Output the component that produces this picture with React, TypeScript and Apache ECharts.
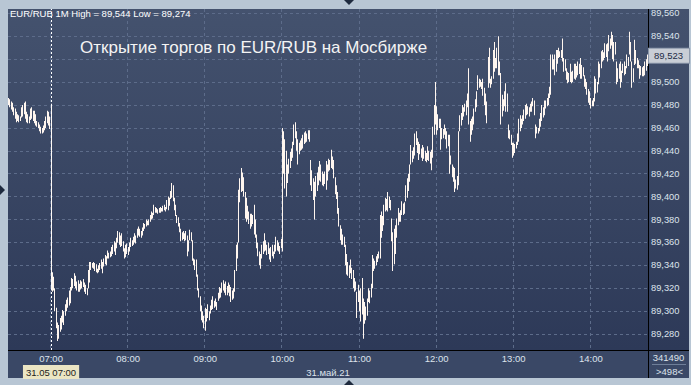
import React, { useEffect, useRef } from 'react';
import * as echarts from 'echarts';

const FONT = '"Liberation Sans", Arial, sans-serif';

// One-minute bars: 33 bars of the previous session, then 07:00 .. 14:44
const PREV_SESSION_START = '23:17';
const SESSION_START = '07:00';
const PREV_BARS = 33;

const HIGH = [
  89.486, 89.485, 89.483, 89.482, 89.478, 89.477, 89.474, 89.472, 89.471, 89.470,
  89.478, 89.480, 89.482, 89.483, 89.474, 89.472, 89.470, 89.477, 89.478, 89.475,
  89.475, 89.472, 89.466, 89.465, 89.463, 89.461, 89.460, 89.462, 89.466, 89.470,
  89.475, 89.474, 89.470, 89.481, 89.334, 89.330, 89.320, 89.303, 89.290, 89.288,
  89.294, 89.296, 89.301, 89.300, 89.306, 89.310, 89.312, 89.318, 89.321, 89.329,
  89.328, 89.333, 89.331, 89.326, 89.327, 89.324, 89.327, 89.326, 89.328, 89.325,
  89.323, 89.320, 89.336, 89.343, 89.343, 89.342, 89.343, 89.342, 89.341, 89.337,
  89.340, 89.342, 89.345, 89.343, 89.346, 89.349, 89.348, 89.353, 89.351, 89.352,
  89.356, 89.358, 89.361, 89.360, 89.364, 89.370, 89.369, 89.366, 89.368, 89.361,
  89.355, 89.358, 89.359, 89.356, 89.360, 89.364, 89.362, 89.365, 89.368, 89.366,
  89.372, 89.374, 89.372, 89.370, 89.373, 89.377, 89.376, 89.380, 89.379, 89.380,
  89.384, 89.387, 89.386, 89.393, 89.391, 89.390, 89.389, 89.390, 89.391, 89.390,
  89.392, 89.393, 89.391, 89.397, 89.400, 89.399, 89.405, 89.412, 89.410, 89.399,
  89.393, 89.384, 89.382, 89.377, 89.372, 89.369, 89.370, 89.368, 89.370, 89.366,
  89.362, 89.371, 89.369, 89.362, 89.346, 89.345, 89.345, 89.332, 89.320, 89.313,
  89.305, 89.300, 89.296, 89.303, 89.302, 89.306, 89.300, 89.305, 89.310, 89.313,
  89.309, 89.311, 89.308, 89.316, 89.321, 89.320, 89.325, 89.327, 89.324, 89.326,
  89.322, 89.325, 89.323, 89.321, 89.318, 89.320, 89.336, 89.358, 89.360, 89.406,
  89.416, 89.425, 89.421, 89.417, 89.404, 89.399, 89.392, 89.387, 89.385, 89.385,
  89.384, 89.393, 89.380, 89.367, 89.360, 89.352, 89.350, 89.358, 89.361, 89.368,
  89.362, 89.358, 89.360, 89.355, 89.356, 89.358, 89.352, 89.358, 89.365, 89.362,
  89.360, 89.357, 89.363, 89.460, 89.457, 89.450, 89.440, 89.428, 89.433, 89.439,
  89.442, 89.448, 89.463, 89.465, 89.457, 89.450, 89.447, 89.449, 89.451, 89.454,
  89.456, 89.457, 89.455, 89.458, 89.458, 89.432, 89.423, 89.416, 89.413, 89.418,
  89.421, 89.426, 89.431, 89.428, 89.422, 89.420, 89.422, 89.431, 89.428, 89.433,
  89.432, 89.441, 89.435, 89.432, 89.417, 89.410, 89.404, 89.390, 89.375, 89.372,
  89.367, 89.365, 89.358, 89.350, 89.343, 89.340, 89.345, 89.338, 89.336, 89.329,
  89.326, 89.317, 89.323, 89.318, 89.320, 89.329, 89.311, 89.308, 89.304, 89.311,
  89.320, 89.318, 89.324, 89.349, 89.346, 89.344, 89.348, 89.350, 89.352, 89.384,
  89.387, 89.383, 89.393, 89.399, 89.398, 89.404, 89.400, 89.397, 89.381, 89.369,
  89.372, 89.375, 89.381, 89.390, 89.386, 89.388, 89.396, 89.394, 89.395, 89.410,
  89.416, 89.420, 89.428, 89.445, 89.440, 89.443, 89.455, 89.457, 89.451, 89.448,
  89.446, 89.442, 89.445, 89.443, 89.440, 89.438, 89.444, 89.440, 89.439, 89.441,
  89.461, 89.480, 89.500, 89.479, 89.472, 89.468, 89.468, 89.460, 89.459, 89.463,
  89.460, 89.457, 89.454, 89.454, 89.436, 89.428, 89.426, 89.425, 89.415, 89.418,
  89.457, 89.471, 89.473, 89.480, 89.478, 89.481, 89.484, 89.490, 89.512, 89.466,
  89.468, 89.470, 89.477, 89.485, 89.492, 89.506, 89.503, 89.502, 89.500, 89.503,
  89.495, 89.490, 89.483, 89.522, 89.530, 89.503, 89.505, 89.528, 89.535, 89.521,
  89.530, 89.540, 89.518, 89.508, 89.489, 89.485, 89.492, 89.499, 89.490, 89.463,
  89.458, 89.454, 89.447, 89.447, 89.446, 89.448, 89.455, 89.468, 89.471, 89.468,
  89.471, 89.476, 89.480, 89.481, 89.479, 89.478, 89.481, 89.483, 89.486, 89.484,
  89.463, 89.461, 89.460, 89.468, 89.473, 89.480, 89.478, 89.484, 89.484, 89.486,
  89.490, 89.496, 89.524, 89.524, 89.520, 89.524, 89.528, 89.528, 89.530, 89.527,
  89.528, 89.538, 89.521, 89.520, 89.512, 89.509, 89.508, 89.516, 89.509, 89.510,
  89.516, 89.516, 89.514, 89.518, 89.516, 89.521, 89.515, 89.513, 89.506, 89.503,
  89.500, 89.494, 89.492, 89.486, 89.484, 89.486, 89.505, 89.503, 89.500, 89.518,
  89.516, 89.527, 89.528, 89.526, 89.534, 89.533, 89.534, 89.541, 89.538, 89.544,
  89.541, 89.535, 89.535, 89.518, 89.512, 89.516, 89.518, 89.510, 89.516, 89.518,
  89.514, 89.524, 89.522, 89.544, 89.535, 89.518, 89.512, 89.537, 89.528, 89.521,
  89.519, 89.515, 89.514, 89.513, 89.514, 89.518, 89.520, 89.524,
];

const LOW = [
  89.480, 89.478, 89.476, 89.474, 89.471, 89.468, 89.465, 89.466, 89.465, 89.466,
  89.469, 89.470, 89.472, 89.468, 89.465, 89.464, 89.464, 89.467, 89.468, 89.466,
  89.464, 89.462, 89.461, 89.460, 89.457, 89.455, 89.455, 89.456, 89.458, 89.460,
  89.464, 89.462, 89.459, 89.318, 89.317, 89.318, 89.300, 89.285, 89.274, 89.276,
  89.282, 89.284, 89.290, 89.288, 89.296, 89.300, 89.303, 89.305, 89.307, 89.318,
  89.320, 89.322, 89.320, 89.318, 89.317, 89.317, 89.319, 89.320, 89.321, 89.317,
  89.315, 89.314, 89.320, 89.325, 89.336, 89.338, 89.337, 89.335, 89.334, 89.333,
  89.334, 89.336, 89.337, 89.333, 89.339, 89.341, 89.340, 89.346, 89.346, 89.347,
  89.348, 89.350, 89.352, 89.349, 89.355, 89.360, 89.358, 89.356, 89.357, 89.352,
  89.346, 89.347, 89.350, 89.349, 89.352, 89.356, 89.357, 89.358, 89.360, 89.359,
  89.364, 89.366, 89.365, 89.364, 89.366, 89.370, 89.372, 89.374, 89.375, 89.375,
  89.378, 89.380, 89.381, 89.384, 89.386, 89.386, 89.385, 89.386, 89.386, 89.387,
  89.387, 89.388, 89.387, 89.389, 89.388, 89.392, 89.398, 89.399, 89.396, 89.388,
  89.383, 89.377, 89.374, 89.369, 89.361, 89.362, 89.363, 89.361, 89.362, 89.348,
  89.352, 89.362, 89.361, 89.344, 89.340, 89.336, 89.330, 89.318, 89.312, 89.300,
  89.292, 89.290, 89.285, 89.283, 89.291, 89.294, 89.292, 89.298, 89.301, 89.302,
  89.303, 89.304, 89.301, 89.309, 89.311, 89.312, 89.316, 89.318, 89.316, 89.314,
  89.314, 89.316, 89.313, 89.308, 89.310, 89.311, 89.317, 89.335, 89.346, 89.360,
  89.395, 89.404, 89.405, 89.400, 89.381, 89.378, 89.380, 89.376, 89.372, 89.374,
  89.376, 89.367, 89.364, 89.355, 89.348, 89.340, 89.337, 89.346, 89.350, 89.352,
  89.353, 89.349, 89.350, 89.345, 89.343, 89.348, 89.346, 89.350, 89.352, 89.353,
  89.352, 89.350, 89.355, 89.352, 89.420, 89.407, 89.400, 89.412, 89.420, 89.425,
  89.431, 89.434, 89.445, 89.451, 89.440, 89.428, 89.437, 89.440, 89.441, 89.442,
  89.446, 89.447, 89.448, 89.450, 89.448, 89.410, 89.405, 89.397, 89.380, 89.400,
  89.405, 89.410, 89.414, 89.413, 89.410, 89.409, 89.411, 89.406, 89.414, 89.422,
  89.423, 89.425, 89.424, 89.416, 89.402, 89.398, 89.385, 89.374, 89.362, 89.358,
  89.358, 89.356, 89.340, 89.332, 89.331, 89.329, 89.333, 89.328, 89.320, 89.317,
  89.318, 89.294, 89.308, 89.300, 89.291, 89.297, 89.276, 89.289, 89.292, 89.296,
  89.308, 89.307, 89.312, 89.320, 89.335, 89.337, 89.340, 89.343, 89.346, 89.346,
  89.364, 89.370, 89.375, 89.387, 89.388, 89.387, 89.390, 89.388, 89.361, 89.335,
  89.341, 89.350, 89.364, 89.375, 89.378, 89.378, 89.384, 89.384, 89.385, 89.396,
  89.399, 89.405, 89.413, 89.428, 89.430, 89.433, 89.436, 89.445, 89.438, 89.432,
  89.437, 89.434, 89.431, 89.433, 89.431, 89.430, 89.432, 89.431, 89.429, 89.423,
  89.434, 89.454, 89.463, 89.454, 89.458, 89.460, 89.441, 89.450, 89.451, 89.454,
  89.450, 89.442, 89.444, 89.420, 89.428, 89.417, 89.413, 89.404, 89.407, 89.406,
  89.410, 89.457, 89.462, 89.467, 89.470, 89.474, 89.471, 89.478, 89.463, 89.448,
  89.454, 89.458, 89.463, 89.474, 89.478, 89.493, 89.495, 89.496, 89.494, 89.488,
  89.480, 89.471, 89.464, 89.495, 89.499, 89.495, 89.498, 89.503, 89.509, 89.512,
  89.512, 89.506, 89.506, 89.463, 89.470, 89.475, 89.479, 89.474, 89.474, 89.451,
  89.450, 89.445, 89.434, 89.436, 89.438, 89.442, 89.445, 89.448, 89.457, 89.460,
  89.463, 89.466, 89.468, 89.471, 89.472, 89.470, 89.474, 89.474, 89.479, 89.471,
  89.451, 89.455, 89.455, 89.457, 89.461, 89.466, 89.469, 89.471, 89.477, 89.479,
  89.480, 89.486, 89.489, 89.511, 89.511, 89.506, 89.509, 89.516, 89.521, 89.522,
  89.521, 89.518, 89.509, 89.510, 89.502, 89.499, 89.500, 89.500, 89.499, 89.500,
  89.503, 89.502, 89.504, 89.506, 89.507, 89.503, 89.503, 89.505, 89.496, 89.494,
  89.489, 89.482, 89.480, 89.477, 89.479, 89.479, 89.483, 89.490, 89.491, 89.498,
  89.504, 89.512, 89.518, 89.519, 89.521, 89.522, 89.518, 89.527, 89.529, 89.532,
  89.520, 89.518, 89.524, 89.498, 89.500, 89.503, 89.495, 89.500, 89.508, 89.506,
  89.507, 89.512, 89.514, 89.524, 89.518, 89.495, 89.500, 89.515, 89.516, 89.512,
  89.512, 89.503, 89.506, 89.505, 89.505, 89.506, 89.510, 89.514,
];

const LAST_PRICE = 89.523;
const DAY_HIGH = 89.544;
const DAY_LOW = 89.274;
const CURSOR_LABEL = '31.05 07:00';
const DATE_LABEL = '31.май.21';
const VOLUME_TEXT = '341490';
const BARS_TEXT = '>498<';
const TITLE = 'Открытие торгов по EUR/RUB на Мосбирже';

const Y_MIN = 89.2661;
const Y_MAX = 89.5638;

function toMin(s: string) {
  const [h, m] = s.split(':').map(Number);
  return h * 60 + m;
}
function fmtMin(m: number) {
  const h = Math.floor(m / 60) % 24;
  const mm = m % 60;
  return String(h).padStart(2, '0') + ':' + String(mm).padStart(2, '0');
}
const TIMES: string[] = HIGH.map((_, i) =>
  i < PREV_BARS ? fmtMin(toMin(PREV_SESSION_START) + i) : fmtMin(toMin(SESSION_START) + i - PREV_BARS)
);

const fmtPrice = (v: number) => v.toFixed(3).replace('.', ',');

const GRID_COLOR = '#5d6c8a';
const LABEL_COLOR = '#dde3ec';
const BAR_COLOR = '#fff6ef';

export default function App() {
  const ref = useRef<HTMLDivElement>(null);
  useEffect(() => {
    if (!ref.current) return;
    const chart = echarts.init(ref.current, undefined, { renderer: 'svg' });
    const hourTick = (i: number, v: string) => i >= PREV_BARS && v.endsWith(':00');
    chart.setOption({
      animation: false,
      textStyle: { fontFamily: FONT },
      grid: { left: 8, top: 9, width: 640, height: 341, containLabel: false },
      xAxis: {
        type: 'category',
        data: TIMES,
        boundaryGap: true,
        axisLine: { show: false },
        axisTick: { show: false },
        axisLabel: { interval: hourTick, color: LABEL_COLOR, fontSize: 9.5, margin: 3, fontFamily: FONT },
        splitLine: { show: true, interval: hourTick, lineStyle: { color: GRID_COLOR, type: [3, 3], width: 1 } },
        name: DATE_LABEL,
        nameLocation: 'middle',
        nameGap: 15,
        nameTextStyle: { color: LABEL_COLOR, fontSize: 9.5, fontFamily: FONT },
        axisPointer: {
          show: true,
          type: 'line',
          status: 'show',
          value: PREV_BARS,
          snap: false,
          triggerTooltip: false,
          lineStyle: { color: '#ffffff', type: [2, 2], width: 1 },
          label: {
            show: true,
            formatter: () => CURSOR_LABEL,
            backgroundColor: '#ebe5c3',
            color: '#1b1b1b',
            fontSize: 9.5,
            fontFamily: FONT,
            padding: [2, 3, 2, 3],
            borderRadius: 0,
            margin: 15,
            shadowBlur: 0,
          },
        },
      },
      yAxis: {
        type: 'value',
        position: 'right',
        min: Y_MIN,
        max: Y_MAX,
        splitNumber: 15,
        minInterval: 0.02,
        maxInterval: 0.02,
        axisLine: { show: false },
        axisTick: { show: false },
        axisLabel: {
          color: LABEL_COLOR,
          fontSize: 9.3,
          margin: 3,
          fontFamily: FONT,
          // the 89,520 tick label is covered by the last-price tag in the original
          formatter: (v: number) => (Math.abs(v - LAST_PRICE) < 0.008 ? '' : fmtPrice(v)),
          showMinLabel: false,
          showMaxLabel: false,
        },
        splitLine: { show: true, showMinLine: false, showMaxLine: false, lineStyle: { color: GRID_COLOR, type: [3, 3], width: 1 } },
        axisPointer: {
          show: true,
          type: 'line',
          status: 'show',
          value: LAST_PRICE,
          triggerTooltip: false,
          lineStyle: { opacity: 0 },
          label: {
            show: true,
            formatter: () => fmtPrice(LAST_PRICE),
            backgroundColor: '#c9ced6',
            borderColor: '#8b97aa',
            borderWidth: 1,
            color: '#1d2b44',
            fontSize: 9.5,
            fontFamily: FONT,
            padding: [2, 6, 2, 5],
            borderRadius: 0,
            margin: 1,
            shadowBlur: 0,
          },
        },
      },
      series: [
        {
          type: 'custom',
          data: HIGH.map((h, i) => [i, LOW[i], h]),
          encode: { x: 0, y: [1, 2] },
          clip: true,
          z: 3,
          renderItem: (_params: any, api: any) => {
            const i = api.value(0);
            const lo = api.coord([i, api.value(1)]);
            const hi = api.coord([i, api.value(2)]);
            return {
              type: 'rect',
              shape: { x: Math.floor(lo[0]), y: hi[1], width: 1, height: Math.max(1, lo[1] - hi[1]) },
              style: { fill: BAR_COLOR },
            };
          },
        },
      ],
      graphic: [
        { type: 'line', shape: { x1: 648.5, y1: 9, x2: 648.5, y2: 378 }, style: { stroke: '#000', lineWidth: 1 }, z: 50 },
        { type: 'line', shape: { x1: 8, y1: 350.5, x2: 689, y2: 350.5 }, style: { stroke: '#000', lineWidth: 1 }, z: 50 },
        { type: 'line', shape: { x1: 652, y1: 364.5, x2: 686, y2: 364.5 }, style: { stroke: '#6f7f99', lineWidth: 1 }, z: 50 },
        {
          type: 'text', x: 10, y: 13.5, z: 60,
          style: { text: `EUR/RUB 1M High = ${fmtPrice(DAY_HIGH)} Low = ${fmtPrice(DAY_LOW)}`, fill: '#ffffff', font: `9.5px ${FONT}`, textVerticalAlign: 'middle' },
        },
        {
          type: 'text', x: 80, y: 47, z: 60,
          style: { text: TITLE, fill: '#f4f4f4', font: `17px ${FONT}`, textVerticalAlign: 'middle' },
        },
        {
          type: 'text', x: 668.5, y: 357, z: 60,
          style: { text: VOLUME_TEXT, fill: LABEL_COLOR, font: `9.5px ${FONT}`, textAlign: 'center', textVerticalAlign: 'middle' },
        },
        {
          type: 'text', x: 669.5, y: 371, z: 60,
          style: { text: BARS_TEXT, fill: LABEL_COLOR, font: `9.5px ${FONT}`, textAlign: 'center', textVerticalAlign: 'middle' },
        },
        { type: 'polygon', shape: { points: [[344, 0], [354, 0], [349, 5]] }, style: { fill: '#1e2a3e' }, z: 60 },
        { type: 'polygon', shape: { points: [[344, 385], [354, 385], [349, 380]] }, style: { fill: '#1e2a3e' }, z: 60 },
        { type: 'polygon', shape: { points: [[0, 185], [0, 195], [5, 190]] }, style: { fill: '#1e2a3e' }, z: 60 },
      ],
    });
    return () => chart.dispose();
  }, []);

  return (
    <div style={{ position: 'fixed', left: 0, top: 0, width: 691, height: 385, background: '#b8c6d4', overflow: 'hidden' }}>
      <div style={{ position: 'absolute', left: 8, top: 9, width: 681, height: 369, background: 'linear-gradient(#44526e, #2b3756)' }} />
      <div style={{ position: 'absolute', left: 8, top: 351, width: 681, height: 27, background: '#3a4866' }} />
      <div ref={ref} style={{ position: 'absolute', left: 0, top: 0, width: 691, height: 385 }} />
    </div>
  );
}
